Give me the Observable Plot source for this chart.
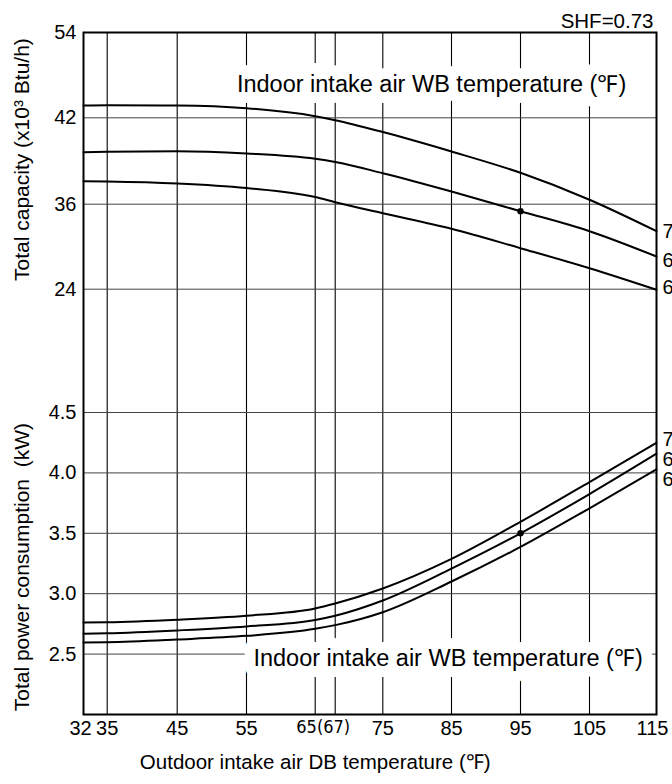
<!DOCTYPE html>
<html>
<head>
<meta charset="utf-8">
<script src="https://cdn.jsdelivr.net/npm/d3@7"></script>
<script src="https://cdn.jsdelivr.net/npm/@observablehq/plot@0.6"></script>
<style>
  html, body { margin: 0; padding: 0; background: #fff; }
  #chart svg { display: block; }
</style>
</head>
<body>
<div id="chart"></div>
<script>
// Outdoor intake air dry-bulb temperatures (°F) at which the curves are read
const outdoorDB = [32, 35, 45, 55, 65, 67, 75, 85, 95, 105, 115];

// Indoor intake air wet-bulb temperatures (°F), one curve each
const indoorWB = [71, 67, 63];

// Total capacity (x10³ Btu/h) per indoor WB curve
const capacityWB71 = [43.73, 43.77, 43.73, 43.35, 42.22, 41.83, 41.01, 39.66, 38.18, 36.31, 32.19];
const capacityWB67 = [39.61, 39.64, 39.68, 39.52, 39.15, 38.93, 38.15, 36.88, 35.01, 32.19, 28.62];
const capacityWB63 = [37.60, 37.58, 37.44, 37.12, 36.50, 36.14, 34.73, 32.53, 29.79, 26.96, 23.91];

// Total power consumption (kW) per indoor WB curve
const powerWB71 = [2.762, 2.764, 2.785, 2.818, 2.878, 2.919, 3.043, 3.288, 3.595, 3.924, 4.250];
const powerWB67 = [2.668, 2.672, 2.696, 2.729, 2.783, 2.818, 2.944, 3.208, 3.500, 3.825, 4.159];
const powerWB63 = [2.597, 2.599, 2.621, 2.651, 2.709, 2.740, 2.847, 3.101, 3.387, 3.707, 4.029];

// Rated point (outdoor 95 °F DB, indoor 67 °F WB)
const ratedDB = 95;
const ratedCapacity = 35.01;
const ratedPower = 3.5;

// Axis ticks and grid
const dbTicks = [35, 45, 55, 75, 85, 95, 105];
const dbGrid = [35, 45, 55, 65, 67, 75, 85, 95, 105];
const capacityTicks = [54, 42, 36, 24];
const powerTicks = [4.5, 4.0, 3.5, 3.0, 2.5];

const shfText = "SHF=0.73";
const wbTitle = "Indoor intake air WB temperature (℉)";
const dbTitle = "Outdoor intake air DB temperature (℉)";
const capacityTitle = "Total capacity (x10³ Btu/h)";
const powerTitle = "Total power consumption\u00a0 (kW)";

// Long-format tables for the line marks
const capacitySeries = [capacityWB71, capacityWB67, capacityWB63];
const powerSeries = [powerWB71, powerWB67, powerWB63];
const toRows = (series) => indoorWB.flatMap((wb, i) =>
  outdoorDB.map((db, j) => ({wb, db, value: series[i][j]})));
const capacityRows = toRows(capacitySeries);
const powerRows = toRows(powerSeries);
const capacityEnds = indoorWB.map((wb, i) => ({wb, db: outdoorDB.at(-1), value: capacitySeries[i].at(-1)}));
const powerEnds = indoorWB.map((wb, i) => ({wb, db: outdoorDB.at(-1), value: powerSeries[i].at(-1)}));

// Chart-paper geometry: the printed grid is not evenly spaced, so each axis is
// warped piecewise before Plot's linear scale (end points stay fixed).
const xStops = [32, 35, 45, 55, 65, 67, 75, 85, 95, 105, 115];
const xStopPx = [0, 23.7, 93.7, 163, 231.7, 251.7, 299.3, 368, 437, 506, 573];
const xWarp = d3.scaleLinear().domain(xStops).range(xStopPx.map((p) => 32 + p * 83 / 573));

// Power (kW) occupies the lower part and capacity the upper part of one axis
const yStops = [2.0, 4.5, 24, 36, 42, 54];
const yStopPx = [0, 302, 425.3, 510.3, 596.7, 682];
const yWarp = d3.scaleLinear().domain(yStops).range(yStopPx.map((p) => 2 + p * 52 / 682));

// Axis and grid marks take their tick positions already warped
const yTickFormat = (d) => {
  const v = yWarp.invert(d);
  return v < 10 ? v.toFixed(1) : String(Math.round(v));
};
const xTickFormat = (d) => String(Math.round(xWarp.invert(d)));

const font = "'Liberation Sans', Arial, Helvetica, sans-serif";
const halo = {fill: "#000", stroke: "#fff", strokeWidth: 22, strokeLinejoin: "round"};

const chart = Plot.plot({
  width: 672,
  height: 784,
  marginLeft: 83,
  marginRight: 16,
  marginTop: 32,
  marginBottom: 70,
  style: {fontFamily: font, fontSize: "20px", color: "#000", background: "#fff"},
  x: {domain: [32, 115], transform: xWarp},
  y: {domain: [2, 54], transform: yWarp},
  marks: [
    Plot.gridX({ticks: dbGrid.map(xWarp), stroke: "#000", strokeOpacity: 1, strokeWidth: 1.1}),
    Plot.gridY({ticks: capacityTicks.slice(1).concat(powerTicks).map(yWarp), stroke: "#444", strokeOpacity: 1, strokeWidth: 1}),
    Plot.axisY({
      ticks: capacityTicks.concat(powerTicks).map(yWarp),
      tickSize: 0,
      tickPadding: 7,
      tickFormat: yTickFormat,
      label: null,
      fontSize: 20
    }),
    Plot.axisX({ticks: dbTicks.map(xWarp), tickFormat: xTickFormat, tickSize: 0, tickPadding: 6, label: null, fontSize: 20}),
    Plot.axisX({ticks: [xWarp(32)], tickFormat: xTickFormat, tickSize: 0, tickPadding: 6, label: null, fontSize: 20, dx: -3}),
    Plot.axisX({ticks: [xWarp(115)], tickFormat: xTickFormat, tickSize: 0, tickPadding: 6, label: null, fontSize: 20, dx: -4}),
    Plot.text(["65(67)"], {
      x: () => 65.8, frameAnchor: "bottom", lineAnchor: "top", dy: 6,
      fontSize: 18, fontFamily: "'Liberation Sans Narrow', 'DejaVu Sans Condensed', sans-serif"
    }),
    Plot.text([wbTitle], {x: () => 82.1, y: () => 46.7, fontSize: 23.5, ...halo}),
    Plot.text([wbTitle], {x: () => 84.5, y: () => 2.464, fontSize: 23.5, ...halo}),
    Plot.text([capacityTitle], {y: () => 39.1, frameAnchor: "left", textAnchor: "middle", dx: -61, rotate: -90, fontSize: 21}),
    Plot.text([powerTitle], {y: () => 3.22, frameAnchor: "left", textAnchor: "middle", dx: -61, rotate: -90, fontSize: 21}),
    Plot.text([dbTitle], {x: () => 65, frameAnchor: "bottom", dy: 54, fontSize: 20.5}),
    Plot.text([shfText], {frameAnchor: "top-right", textAnchor: "end", dx: -3, dy: -19, fontSize: 20.5}),
    Plot.line(capacityRows, {x: "db", y: "value", z: "wb", curve: "monotone-x", stroke: "#000", strokeWidth: 2}),
    Plot.line(powerRows, {x: "db", y: "value", z: "wb", curve: "monotone-x", stroke: "#000", strokeWidth: 2}),
    Plot.dot([{db: ratedDB, value: ratedCapacity}, {db: ratedDB, value: ratedPower}],
      {x: "db", y: "value", r: 3.2, fill: "#000"}),
    // WB labels at the right end of each curve (partly cut by the page edge)
    ...[0, 4, -2].map((dy, i) => Plot.text([capacityEnds[i]],
      {x: "db", y: "value", text: "wb", textAnchor: "start", dx: 6, dy, fontSize: 20})),
    ...[-3, 6, 10].map((dy, i) => Plot.text([powerEnds[i]],
      {x: "db", y: "value", text: "wb", textAnchor: "start", dx: 6, dy, fontSize: 20})),
    Plot.frame({stroke: "#000", strokeWidth: 2})
  ]
});

document.getElementById("chart").append(chart);
</script>
</body>
</html>
